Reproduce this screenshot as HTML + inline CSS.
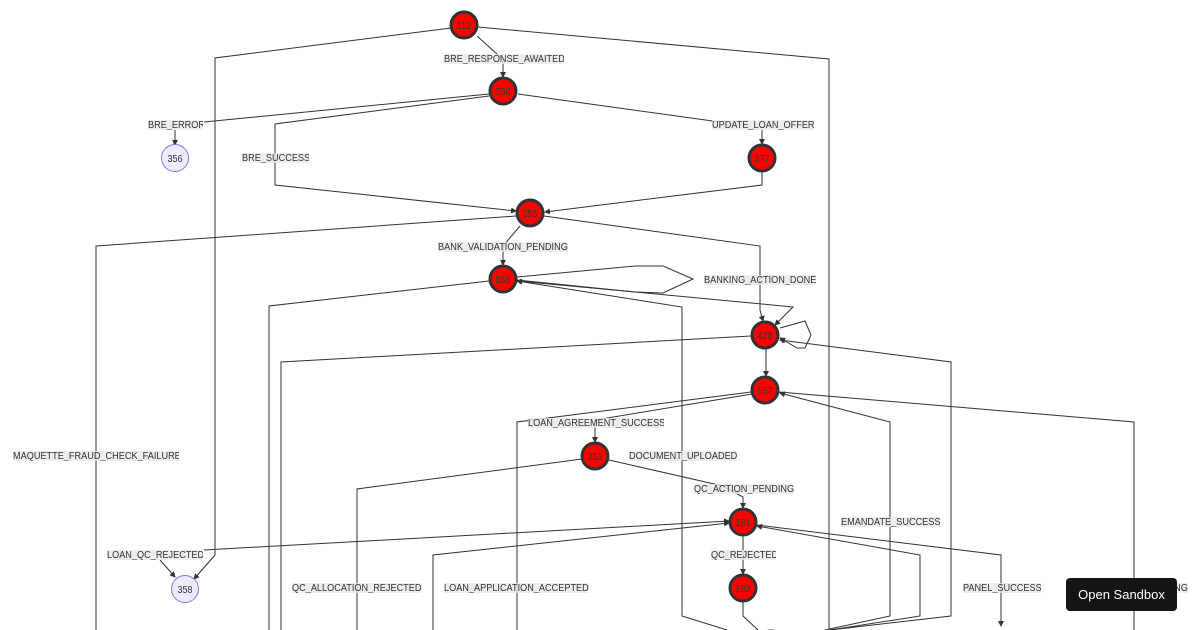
<!DOCTYPE html>
<html><head><meta charset="utf-8">
<style>
html,body{margin:0;padding:0;background:#fff;width:1200px;height:630px;overflow:hidden;font-family:"Liberation Sans",sans-serif}
svg{position:absolute;left:0;top:0}
.l{position:absolute;height:10px;line-height:12px;background:rgba(232,232,232,.8);font-size:10px;color:#333;overflow:hidden;white-space:nowrap}
.l span{display:inline-block;transform:scaleX(.915);transform-origin:0 50%}
.l.r{text-align:right}
.l.r span{transform-origin:100% 50%}
.n{font:10px "Liberation Sans",sans-serif;fill:#333;text-anchor:middle}
.b{position:absolute;left:1066px;top:578px;width:111px;height:33px;background:#151515;border-radius:4px;color:#fff;font-size:13px;line-height:33px;text-align:center}
path{fill:none;stroke:#333;stroke-width:1}
</style></head><body>
<svg width="1200" height="630" viewBox="0 0 1200 630">
<defs><marker id="a" markerUnits="userSpaceOnUse" markerWidth="6" markerHeight="6" refX="5" refY="3" orient="auto"><polygon points="0,0 6,3 0,6" fill="#333"/></marker></defs>
<path d="M451 28L215 58V555L194 579" marker-end="url(#a)"/>
<path d="M478 27L829 59V630"/>
<path d="M477 36L498 55L503 60V77" marker-end="url(#a)"/>
<path d="M489 94L204 122"/>
<path d="M175 130V145" marker-end="url(#a)"/>
<path d="M489 96L275 124V185L516 211" marker-end="url(#a)"/>
<path d="M518 94L720 122"/>
<path d="M762 130V144" marker-end="url(#a)"/>
<path d="M762 172V185L545 212" marker-end="url(#a)"/>
<path d="M516 216L96 246V630"/>
<path d="M520 226L503 246V265" marker-end="url(#a)"/>
<path d="M544 216L760 246V310L763 321" marker-end="url(#a)"/>
<path d="M517 277L635 266H663L693 279L663 293L635 292L517 281" marker-end="url(#a)"/>
<path d="M517 280L635 292L793 307L775 325" marker-end="url(#a)"/>
<path d="M489 281L269 306V630"/>
<path d="M727 630L682 616V307L517 281" marker-end="url(#a)"/>
<path d="M780 328L805 321L811 335L805 348H797L780 338" marker-end="url(#a)"/>
<path d="M751 336L281 362V630"/>
<path d="M766 349V376" marker-end="url(#a)"/>
<path d="M830 630L951 616V362L780 340" marker-end="url(#a)"/>
<path d="M751 392L517 422V630"/>
<path d="M752 394L595 420V442" marker-end="url(#a)"/>
<path d="M779 392L1134 422V630"/>
<path d="M825 630L890 616V422L780 393" marker-end="url(#a)"/>
<path d="M582 459L357 489V630"/>
<path d="M609 460L723 486L743 497V508" marker-end="url(#a)"/>
<path d="M433 630V555L729 523" marker-end="url(#a)"/>
<path d="M204 550L729 521" marker-end="url(#a)"/>
<path d="M160 560L175 577" marker-end="url(#a)"/>
<path d="M757 525L1001 555V626" marker-end="url(#a)"/>
<path d="M830 630L920 616V555L757 526" marker-end="url(#a)"/>
<path d="M743 536V574" marker-end="url(#a)"/>
<path d="M743 602V616L758 630"/>
<g fill="#f00" stroke="#333" stroke-width="3">
<circle cx="464" cy="25" r="13"/>
<circle cx="503" cy="91" r="13"/>
<circle cx="762" cy="158" r="13"/>
<circle cx="530" cy="213" r="13"/>
<circle cx="503" cy="279" r="13"/>
<circle cx="765" cy="335" r="13"/>
<circle cx="765" cy="390" r="13"/>
<circle cx="595" cy="456" r="13"/>
<circle cx="743" cy="522" r="13"/>
<circle cx="743" cy="588" r="13"/>
<circle cx="771" cy="644" r="13"/>
</g>
<g fill="#ececff" stroke="#9370db" stroke-width="1">
<circle cx="175" cy="158" r="13.5"/>
<circle cx="185" cy="589" r="13.5"/>
</g>
<g class="n">
<text class="n" x="464" y="29" textLength="15" lengthAdjust="spacingAndGlyphs">112</text>
<text class="n" x="503" y="95" textLength="15" lengthAdjust="spacingAndGlyphs">366</text>
<text class="n" x="175" y="162" textLength="15" lengthAdjust="spacingAndGlyphs">356</text>
<text class="n" x="762" y="162" textLength="15" lengthAdjust="spacingAndGlyphs">377</text>
<text class="n" x="530" y="217" textLength="15" lengthAdjust="spacingAndGlyphs">355</text>
<text class="n" x="503" y="283" textLength="15" lengthAdjust="spacingAndGlyphs">558</text>
<text class="n" x="765" y="339" textLength="15" lengthAdjust="spacingAndGlyphs">428</text>
<text class="n" x="765" y="394" textLength="15" lengthAdjust="spacingAndGlyphs">557</text>
<text class="n" x="595" y="460" textLength="15" lengthAdjust="spacingAndGlyphs">353</text>
<text class="n" x="743" y="526" textLength="15" lengthAdjust="spacingAndGlyphs">181</text>
<text class="n" x="743" y="592" textLength="15" lengthAdjust="spacingAndGlyphs">183</text>
<text class="n" x="185" y="593" textLength="15" lengthAdjust="spacingAndGlyphs">358</text>
</g>
</svg>
<div class="l" style="left:444px;top:54px;width:120px"><span>BRE_RESPONSE_AWAITED</span></div>
<div class="l" style="left:148px;top:120px;width:55px"><span>BRE_ERROR</span></div>
<div class="l" style="left:712px;top:120px;width:102px"><span>UPDATE_LOAN_OFFER</span></div>
<div class="l" style="left:242px;top:153px;width:67px"><span>BRE_SUCCESS</span></div>
<div class="l" style="left:438px;top:242px;width:130px"><span>BANK_VALIDATION_PENDING</span></div>
<div class="l" style="left:704px;top:275px;width:112px"><span>BANKING_ACTION_DONE</span></div>
<div class="l" style="left:528px;top:418px;width:136px"><span>LOAN_AGREEMENT_SUCCESS</span></div>
<div class="l" style="left:13px;top:451px;width:166px"><span>MAQUETTE_FRAUD_CHECK_FAILURE</span></div>
<div class="l" style="left:629px;top:451px;width:108px"><span>DOCUMENT_UPLOADED</span></div>
<div class="l" style="left:694px;top:484px;width:100px"><span>QC_ACTION_PENDING</span></div>
<div class="l" style="left:841px;top:517px;width:99px"><span>EMANDATE_SUCCESS</span></div>
<div class="l" style="left:711px;top:550px;width:65px"><span>QC_REJECTED</span></div>
<div class="l" style="left:107px;top:550px;width:96px"><span>LOAN_QC_REJECTED</span></div>
<div class="l" style="left:292px;top:583px;width:130px"><span>QC_ALLOCATION_REJECTED</span></div>
<div class="l" style="left:444px;top:583px;width:145px"><span>LOAN_APPLICATION_ACCEPTED</span></div>
<div class="l" style="left:963px;top:583px;width:78px"><span>PANEL_SUCCESS</span></div>
<div class="l r" style="left:1072px;top:583px;width:116px"><span>DISBURSAL_PENDING</span></div>
<div class="b">Open Sandbox</div>
</body></html>
